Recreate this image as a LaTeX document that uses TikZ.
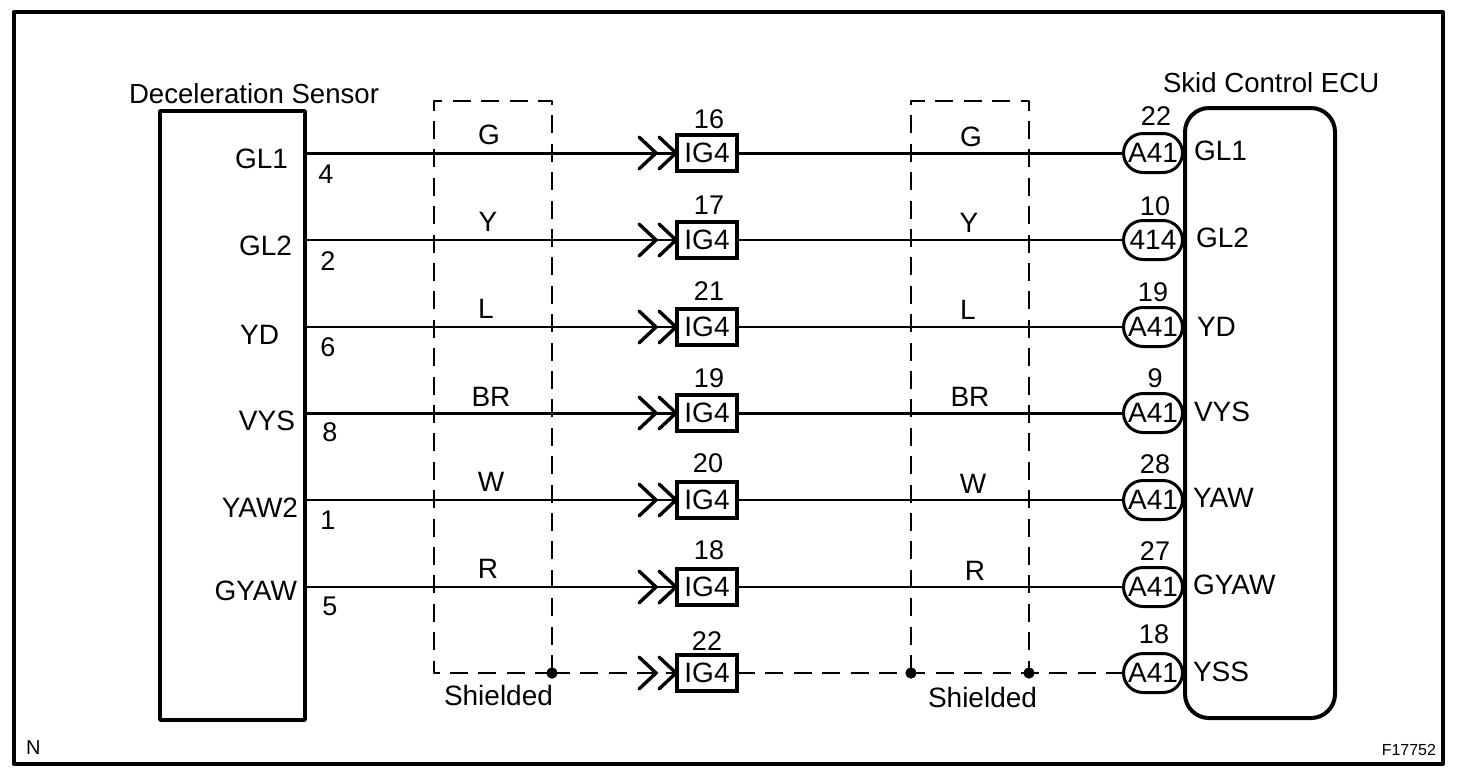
\documentclass[tikz,border=0pt]{standalone}
\usepackage{fontspec}
\setmainfont{Liberation Sans}
\usetikzlibrary{shapes.misc}
\tikzset{
  x=0.5pt,y=-0.5pt,
  lab/.style={inner sep=0pt,outer sep=0pt,font=\fontsize{14}{16}\selectfont,anchor=base},
  labl/.style={lab,anchor=base west},
  labr/.style={lab,anchor=base east},
  numlab/.style={lab,font=\fontsize{13.5}{16}\selectfont},
  title/.style={lab,font=\fontsize{13.8}{16}\selectfont,anchor=base west},
  small/.style={inner sep=0pt,outer sep=0pt,font=\fontsize{8}{9}\selectfont},
  nlab/.style={inner sep=0pt,outer sep=0pt,font=\fontsize{10}{11}\selectfont},
  frame/.style={line width=2pt,line join=round},
  heavy/.style={line width=1.9pt,line join=round},
  shield/.style={line width=1.4pt,dash pattern=on 9pt off 5.2pt,line join=round},
  chev/.style={line width=1.7pt,line cap=round},
  igbox/.style={draw,line width=1.8pt,fill=white,inner sep=0pt,outer sep=0pt,minimum width=30pt,minimum height=18pt,font=\fontsize{14}{16}\selectfont},
  oval/.style={draw,rounded rectangle,line width=1.5pt,fill=white,inner sep=0pt,outer sep=0pt,minimum width=29.5pt,minimum height=19.5pt,font=\fontsize{14}{16}\selectfont},
  junction/.style={circle,fill=black,inner sep=0pt,minimum size=5.5pt,outer sep=0pt}
}
\begin{document}
\begin{tikzpicture}
\useasboundingbox (0,0) rectangle (1472,782);
\fill[white] (0,0) rectangle (1472,782);
\node[draw,frame,inner sep=0pt,outer sep=0pt,minimum width=714.5pt,minimum height=376pt,anchor=north west] (border) at (14,12) {};
\node[title] (sensortitle) at (129,103) {Deceleration Sensor};
\node[title] (ecutitle) at (1163,92) {Skid Control ECU};
% shield boxes
\node[junction] (j1) at (552,673) {};
\node[junction] (j2) at (911,673) {};
\node[junction] (j3) at (1029,673) {};
\coordinate (b1tl) at (434,101);
\coordinate (b1bl) at (434,673);
\coordinate (b1tr) at (552,101);
\coordinate (b2tl) at (911,101);
\coordinate (b2tr) at (1029,101);
\draw[shield] (j1.center) -- (b1tr) -- (b1tl) -- (b1bl) -- (j1.center);
\draw[shield] (j2.center) -- (b2tl) -- (b2tr) -- (j3.center);
% rows
\foreach \i/\yy/\wl/\ln/\lx/\lb/\pn/\px/\pb/\wc/\wxa/\wya/\wxb/\wyb/\tn/\tx/\tb/\ot/\on/\ox/\ob/\eln/\elx/\elb in {
 1/153/1.5/GL1/288/168/4/326/183/G/489/144/971/146/16/709/128/A41/22/1156/125/GL1/1194/160,
 2/240/1.1/GL2/292/255/2/328/270/Y/488/231/969/232/17/709/214/414/10/1155/215/GL2/1196/247,
 3/327/1.1/YD/279/344/6/328/356/L/486/318/968/319/21/709/300/A41/19/1153/301/YD/1197/336,
 4/413/1.5/VYS/295/430/8/330/441/BR/491/406/970/406/19/709/387/A41/9/1155/387/VYS/1194/421,
 5/500/1.1/YAW2/298/517/1/328/529/W/491/491/973/493/20/708/472/A41/28/1155/473/YAW/1193/507,
 6/587/1.1/GYAW/297/600/5/330/615/R/488/578/975/580/18/709/559/A41/27/1155/560/GYAW/1193/594}
{
  \coordinate (start\i) at (305,\yy);
  \node[igbox] (ig\i) at (707,\yy) {IG4};
  \node[oval] (ov\i) at (1153,\yy) {\ot};
  \draw[line width=\wl pt] (start\i) -- (ig\i.west);
  \draw[line width=\wl pt] (ig\i.east) -- (ov\i.west);
  \draw[chev] ([shift={(-38,-16)}]ig\i.west) -- ([shift={(-21,0)}]ig\i.west) -- ([shift={(-38,16)}]ig\i.west);
  \draw[chev] ([shift={(-18,-16)}]ig\i.west) -- ([shift={(-1,0)}]ig\i.west) -- ([shift={(-18,16)}]ig\i.west);
  \node[labr] (ll\i) at (\lx,\lb) {\ln};
  \node[numlab] (pin\i) at (\px,\pb) {\pn};
  \node[lab] (wa\i) at (\wxa,\wya) {\wc};
  \node[lab] (wb\i) at (\wxb,\wyb) {\wc};
  \node[numlab] (tn\i) at (\tx,\tb) {\tn};
  \node[numlab] (on\i) at (\ox,\ob) {\on};
  \node[labl] (el\i) at (\elx,\elb) {\eln};
}
% seventh row
\node[igbox] (ig7) at (707,673) {IG4};
\node[oval] (ov7) at (1153,673) {A41};
\draw[shield] (j1.center) -- (ig7.west);
\draw[shield] (ig7.east) -- (j2.center) -- (j3.center) -- (ov7.west);
\draw[chev] ([shift={(-38,-16)}]ig7.west) -- ([shift={(-21,0)}]ig7.west) -- ([shift={(-38,16)}]ig7.west);
\draw[chev] ([shift={(-18,-16)}]ig7.west) -- ([shift={(-1,0)}]ig7.west) -- ([shift={(-18,16)}]ig7.west);
\node[junction] at (j1) {};
\node[junction] at (j2) {};
\node[junction] at (j3) {};
\node[numlab] (tn7) at (707,650) {22};
\node[numlab] (on7) at (1154,643) {18};
\node[labl] (el7) at (1193,681) {YSS};
\node[labl] (sh1) at (444,705) {Shielded};
\node[labl] (sh2) at (928,707) {Shielded};
% main boxes
\node[draw,heavy,inner sep=0pt,outer sep=0pt,minimum width=72.5pt,minimum height=304.5pt,anchor=north west] (sensor) at (160,111) {};
\node[draw,frame,rounded corners=12pt,inner sep=0pt,outer sep=0pt,minimum width=75pt,minimum height=305pt,anchor=north west] (ecu) at (1185,108) {};
\node[nlab,anchor=base west] (nmark) at (26,754) {N};
\node[small,anchor=base east] (fig) at (1436,755) {F17752};
\end{tikzpicture}
\end{document}
